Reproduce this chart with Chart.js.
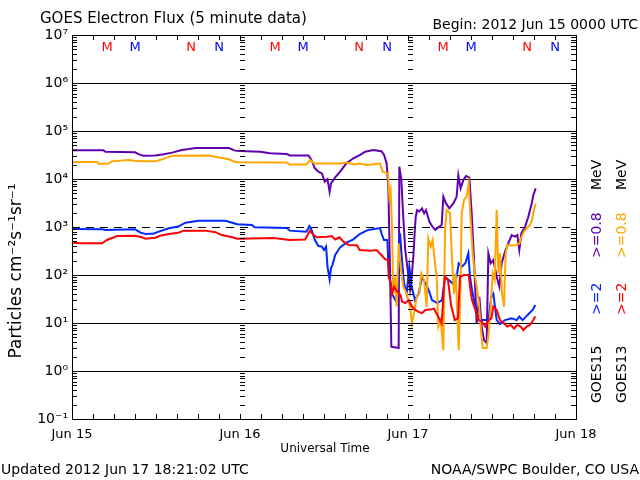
<!DOCTYPE html>
<html><head><meta charset="utf-8">
<script src="https://cdn.jsdelivr.net/npm/chart.js@4.4.0/dist/chart.umd.min.js"></script>
<style>html,body{margin:0;padding:0;background:#fff}#wrap{width:640px;height:480px;position:relative}</style>
</head><body><div id="wrap"><canvas id="c" width="640" height="480"></canvas></div>
<script>
// ---- categories / ticks ----
const dayLabels = ['Jun 15','Jun 16','Jun 17','Jun 18'];
const dayHours = [0,24,48,72];
const yTickValues = [1e-1,1,10,100,1e3,1e4,1e5,1e6,1e7];
const yTickLabels = ['10\u207B\u00B9','10\u2070','10\u00B9','10\u00B2','10\u00B3','10\u2074','10\u2075','10\u2076','10\u2077'];
const thresholdFlux = 1000;
const markerLetters = ['M','M','N','N','M','M','N','N','M','M','N','N'];
const markerSats    = ['13','15','13','15','13','15','13','15','13','15','13','15'];
const markerHours   = [5,9,17,21,29,33,41,45,53,57,65,69];

// ---- GOES15 >=0.8 MeV (purple) ----
const p15Hours = [0,4.5,4.8,9.0,9.5,10.2,11.9,13.1,14.3,15.7,16.7,17.6,22.4,23.3,24,26.9,28.3,30.7,31.1,33.8,34.2,34.7,35.2,35.7,36.1,36.5,36.8,37.0,37.6,38.3,39.2,40.2,41.1,41.9,43.0,44.2,44.57,44.95,45.19,45.43,45.62,46.67,46.76,47.05,47.24,47.43,47.6,47.9,48.3,48.55,48.76,48.95,49.1,49.3,49.6,50.0,50.3,50.57,51.05,51.52,51.9,52.4,52.81,53.05,53.43,53.9,54.48,54.95,55.19,55.52,55.9,56.29,56.76,57.1,57.43,57.81,58.19,58.52,58.86,59.24,59.48,59.81,60.19,60.67,61.05,61.38,61.86,62.33,62.81,63.29,63.62,63.9,64.19,64.71,65.19,65.67,65.9,66.24];
const p15Flux = [39500,39500,37000,36000,33000,30600,31000,32700,35400,40000,42000,44300,44000,39000,38300,37000,34300,33000,31000,31000,24900,16700,14200,13100,8800,10000,5400,8100,10800,14200,21200,27000,31600,37000,40000,38000,32000,21000,6900,127,3.2,3.0,18000,9500,2650,865,340,150,50,100,240,740,1620,2240,2100,2450,1930,2260,1300,1000,870,1000,1100,4300,3100,2450,3100,4300,12000,6400,9500,11500,10800,1930,205,9.8,35,8.4,4.4,3.8,283,175,205,92,57,175,306,457,680,630,680,332,738,1000,1640,3100,4600,6400];

// ---- GOES13 >=0.8 MeV (orange) ----
const o13Hours = [0,3.6,3.8,5.2,5.7,8.1,9.5,11.9,12.9,14.3,19.5,21.0,22.4,23.3,24,30.7,31.1,33.5,34.0,34.6,38.3,39.2,40.4,41.1,42.1,44.0,44.38,45.14,45.33,45.52,45.71,45.9,46.14,46.38,46.67,46.95,47.33,47.81,48.29,48.57,48.86,49.24,49.62,49.9,50.29,50.67,50.9,51.24,51.52,51.81,52.1,52.33,52.67,53.05,53.29,53.52,54.0,54.29,54.57,54.81,55.05,55.24,55.48,55.67,56.0,56.38,56.67,56.95,57.24,57.52,57.81,58.1,58.38,58.67,59.24,59.52,59.81,60.1,60.38,60.67,60.9,61.14,61.43,61.71,61.95,62.19,63.05,63.9,64.24,64.57,64.95,65.43,65.71,66.0,66.24];
const o13Flux = [22600,22600,20500,21000,23300,24900,23500,23300,25700,30600,31000,28000,25700,22600,22200,22000,20000,20000,24900,21000,21000,22000,20000,21000,19600,21000,14200,13100,4300,5900,1000,41,92,22,457,150,57,41,22,9.8,16,35,41,108,79,22,580,389,536,205,92,8.4,11.6,2.7,865,2260,1930,205,41,108,16,2.7,41,1930,3660,4300,8100,1400,283,108,57,30,8.4,3.0,3.0,6.1,22,108,79,2260,108,283,41,22,283,422,410,450,630,800,940,1100,1400,2260,3100];

// ---- GOES15 >=2 MeV (blue) ----
const b15Hours = [0,4.3,4.8,9.0,9.8,10.5,11.7,12.4,13.8,15.2,16.2,18.1,21.9,22.9,23.6,25.7,26.1,30.7,31.1,33.5,33.9,34.2,34.7,35.2,35.7,36.0,36.3,36.5,36.8,37.0,37.2,37.6,38.3,39.2,40.2,41.1,42.3,44.0,44.29,44.57,45.05,45.24,45.52,45.71,46.19,46.57,46.86,47.14,47.43,47.81,48.19,48.52,49.0,49.52,50.0,50.48,50.95,51.43,52.19,52.86,53.29,53.81,54.38,54.95,55.24,55.71,56.19,56.62,56.86,57.14,57.43,57.81,58.38,59.05,59.52,59.9,60.19,60.67,61.14,61.86,62.81,63.52,63.9,64.38,64.86,65.33,65.81,66.19];
const b15Flux = [908,893,870,893,762,715,735,800,938,1020,1230,1350,1350,1230,1140,1100,985,950,840,800,1050,890,536,402,390,332,390,150,81,140,161,261,377,472,553,715,870,950,680,536,536,127,67,41,30,57,738,205,67,41,150,57,30,41,92,67,49,30,26,30,92,79,67,92,175,150,175,283,92,49,30,16,11.5,11.5,12.5,35,41,11.5,9.5,11.5,12.5,11.5,13.6,11.5,13.6,16,18.7,23.7];

// ---- GOES13 >=2 MeV (red) ----
const r13Hours = [0,1.4,4.3,5.0,6.0,6.4,9.0,10.0,10.5,11.9,12.6,13.8,15.2,16.0,19.0,20.5,21.4,22.9,23.6,27.3,28.8,31.1,33.3,33.8,34.0,34.5,35.0,36.4,37.1,37.6,38.2,38.8,39.5,40.7,41.1,42.6,43.5,44.2,44.76,45.14,45.24,45.52,45.71,46.0,46.48,46.95,47.14,47.62,48.1,48.57,49.05,49.52,50.0,50.48,51.14,51.71,52.19,52.81,53.24,53.71,54.19,54.67,55.14,55.43,56.0,56.67,56.86,57.14,57.62,58.1,58.57,59.05,59.52,59.9,60.19,60.67,61.14,61.71,62.19,62.67,63.14,63.62,64.1,64.48,64.95,65.43,65.9,66.19];
const r13Flux = [472,457,457,536,610,650,660,610,571,600,660,715,762,840,840,780,680,610,571,580,590,536,550,738,840,680,610,630,650,550,610,494,422,415,332,320,332,261,212,205,92,67,41,57,45,38,28,26,30,22,18.7,17,16,18.7,19,20,14.7,9.8,92,79,22,11.5,12.5,92,100,100,57,30,18.7,11.5,10.5,8.4,11.5,12.5,22,18.7,11.5,9.8,8.4,9.1,7.7,9.1,8.4,7.1,8.4,9.1,11.5,13.6];

const COL = {purple:'#6000b0', orange:'#ffa500', blue:'#0028ff', red:'#ff0000', mblue:'#0000ff'};
const FONT = 'DejaVu Sans';
const pts = (hs, vs) => hs.map((h,i)=>({x:h, y:vs[i]}));

function ds(label, hs, vs, color, order){
  return {label, data: pts(hs,vs), borderColor: color, backgroundColor: color,
    borderWidth: 2, pointRadius: 0, tension: 0, fill: false, order};
}

const decor = {
  id: 'decor',
  beforeDatasetsDraw(chart){
    const {ctx, chartArea:a, scales:{y}} = chart;
    ctx.save();
    ctx.strokeStyle = '#000'; ctx.lineWidth = 1; ctx.setLineDash([8,6]);
    const ty = Math.round(y.getPixelForValue(thresholdFlux)) + 0.5;
    ctx.beginPath(); ctx.moveTo(a.left, ty); ctx.lineTo(a.right, ty); ctx.stroke();
    ctx.restore();
  },
  afterDraw(chart){
    const {ctx, chartArea:a, scales:{x, y}} = chart;
    ctx.save();
    ctx.strokeStyle = '#000'; ctx.lineWidth = 1;
    ctx.strokeRect(Math.round(a.left)+0.5, Math.round(a.top)+0.5, Math.round(a.right-a.left), Math.round(a.bottom-a.top));
    const minors = [];
    for (let k=-1; k<=6; k++) for (let n=2; n<=9; n++) minors.push(n*Math.pow(10,k));
    ctx.beginPath();
    minors.forEach(v=>{
      const py = Math.round(y.getPixelForValue(v)) + 0.5;
      ctx.moveTo(a.left, py); ctx.lineTo(a.left+5, py);
      ctx.moveTo(a.right, py); ctx.lineTo(a.right-5, py);
      [24,48].forEach(h=>{ const px = Math.round(x.getPixelForValue(h)); ctx.moveTo(px, py); ctx.lineTo(px+5, py); });
    });
    yTickValues.forEach(v=>{
      const py = Math.round(y.getPixelForValue(v)) + 0.5;
      [24,48].forEach(h=>{ const px = Math.round(x.getPixelForValue(h)); ctx.moveTo(px, py); ctx.lineTo(px+8, py); });
    });
    for (let h=3; h<72; h+=3){
      const px = Math.round(x.getPixelForValue(h)) + 0.5;
      ctx.moveTo(px, a.top); ctx.lineTo(px, a.top+5);
      ctx.moveTo(px, a.bottom); ctx.lineTo(px, a.bottom-5);
    }
    ctx.stroke();

    ctx.font = '13px "' + FONT + '"'; ctx.textAlign = 'center'; ctx.textBaseline = 'middle';
    markerHours.forEach((h,i)=>{
      ctx.fillStyle = markerSats[i]==='13' ? COL.red : COL.mblue;
      ctx.fillText(markerLetters[i], x.getPixelForValue(h), 48);
    });

    ctx.fillStyle = '#000'; ctx.textBaseline = 'alphabetic';
    ctx.textAlign = 'left'; ctx.font = '15px "' + FONT + '"';
    ctx.fillText('GOES Electron Flux (5 minute data)', 40, 23);
    ctx.textAlign = 'right'; ctx.font = '14px "' + FONT + '"';
    ctx.fillText('Begin: 2012 Jun 15 0000 UTC', 638, 29);
    ctx.textAlign = 'center'; ctx.font = '12px "' + FONT + '"';
    ctx.fillText('Universal Time', 325, 452);
    ctx.textAlign = 'left'; ctx.font = '14px "' + FONT + '"';
    ctx.fillText('Updated 2012 Jun 17 18:21:02 UTC', 1, 474);
    ctx.textAlign = 'right';
    ctx.fillText('NOAA/SWPC Boulder, CO USA', 639, 474);

    ctx.save();
    ctx.translate(17, 271); ctx.rotate(-Math.PI/2);
    ctx.textAlign = 'center'; ctx.textBaseline = 'middle'; ctx.font = '17px "' + FONT + '"';
    ctx.fillText('Particles cm\u207B\u00B2s\u207B\u00B9sr\u207B\u00B9', 0, 0);
    ctx.restore();

    const legend = (cx, parts) => {
      ctx.save();
      ctx.font = '14px "' + FONT + '"'; ctx.textAlign = 'left'; ctx.textBaseline = 'middle';
      parts.forEach(p=>{
        ctx.save(); ctx.translate(cx, p[2]); ctx.rotate(-Math.PI/2);
        ctx.fillStyle = p[1]; ctx.fillText(p[0], 0, 0); ctx.restore();
      });
      ctx.restore();
    };
    legend(597, [['GOES15','#000',403],['>=2',COL.blue,315],['>=0.8',COL.purple,258],['MeV','#000',190]]);
    legend(622, [['GOES13','#000',403],['>=2',COL.red,315],['>=0.8',COL.orange,258],['MeV','#000',190]]);
    ctx.restore();
  }
};

Chart.defaults.font.family = FONT;
new Chart(document.getElementById('c'), {
  type: 'line',
  data: { datasets: [
    ds('GOES13 >=2 MeV', r13Hours, r13Flux, COL.red, 1),
    ds('GOES13 >=0.8 MeV', o13Hours, o13Flux, COL.orange, 2),
    ds('GOES15 >=2 MeV', b15Hours, b15Flux, COL.blue, 3),
    ds('GOES15 >=0.8 MeV', p15Hours, p15Flux, COL.purple, 4)
  ]},
  options: {
    responsive: false, animation: false, devicePixelRatio: 1,
    layout: { padding: { top: 35, right: 64, left: 0, bottom: 0 } },
    plugins: { legend: {display:false}, tooltip: {enabled:false}, title: {display:false} },
    scales: {
      x: {
        type: 'linear', min: 0, max: 72,
        afterBuildTicks: s => { s.ticks = dayHours.map(v=>({value:v})); },
        afterFit: s => { s.height = 61; },
        ticks: { callback: (v,i)=> dayLabels[i], color:'#000', font:{size:13}, maxRotation:0, autoSkip:false, padding: 8 },
        grid: { display: false, drawTicks: false },
        border: { display: false }
      },
      y: {
        type: 'logarithmic', min: 0.1, max: 1e7,
        afterBuildTicks: s => { s.ticks = yTickValues.map(v=>({value:v})); },
        afterFit: s => { s.width = 72; },
        ticks: { callback: (v,i)=> yTickLabels[i], color:'#000', font:{size:14}, padding: 4, autoSkip:false },
        grid: { drawTicks: false, lineWidth: 1,
          color: c => (c.tick && Math.abs(c.tick.value - thresholdFlux) < 1e-6) ? 'rgba(0,0,0,0)' : '#000' },
        border: { display: false }
      }
    }
  },
  plugins: [decor]
});
</script></body></html>
